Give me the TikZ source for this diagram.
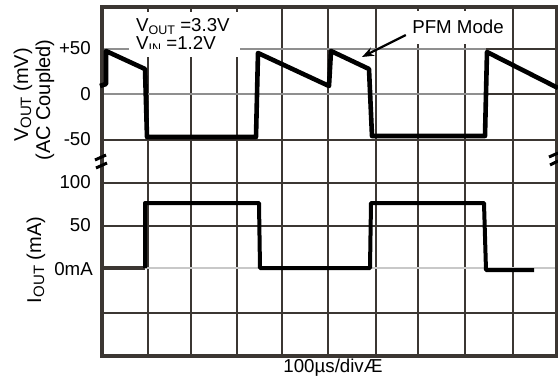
\documentclass[tikz,border=0pt]{standalone}
\usepackage{fontspec}
\setmainfont{Liberation Sans}
\usetikzlibrary{arrows.meta, positioning}
\newcommand{\subtxt}[1]{\raisebox{-3pt}{\fontsize{12.5}{13}\selectfont #1}}
\newcommand{\axsub}[1]{\raisebox{-3pt}{\fontsize{15}{16}\selectfont #1}}
\definecolor{gridc}{HTML}{3B3632}
\definecolor{fadec}{HTML}{8F8F8F}
\definecolor{palec}{HTML}{C8C8C8}

\begin{document}
\begin{tikzpicture}[x=1pt, y=-1pt]
  \tikzset{gridline/.style={draw=gridc, line width=2.8pt},
    fadeline/.style={draw=fadec, line width=2.6pt},
    wave/.style={line width=4.6pt, line join=round},
    lbl/.style={inner sep=0pt, font=\fontsize{18.7}{21}\selectfont},
    ticklbl/.style={lbl, anchor=east},
    axlbl/.style={inner sep=0pt, rotate=90, font=\fontsize{20}{22}\selectfont}}
  \useasboundingbox (0,0) rectangle (558,383);
  % grid
  \foreach \gx in {148,191,237,282,328,376,418,465,513}
    \draw[gridline] (\gx,7) -- (\gx,356);
  \foreach \gy in {140,183,226,313}
    \draw[gridline] (102,\gy) -- (557,\gy);
  \draw[fadeline] (102,49) -- (486,49);
  \draw[gridline] (486,49) -- (557,49);
  \draw[fadeline] (102,94) -- (486,94);
  \draw[gridline] (486,94) -- (557,94);
  \draw[draw=palec, line width=2.6pt] (102,268) -- (557,268);
  \draw[gridline, line width=3.2pt] (102,7) rectangle (557,356);
  % labels in the screen
  \fill[white] (129,12) rectangle (240,57);
  \node[lbl, anchor=base west] (vout) at (136,31) {V\subtxt{OUT} =3.3V};
  \begin{scope}
    \clip (129,12) rectangle (240,48.5);
    \node[lbl, anchor=base west] (vin) at (136,49.5) {V\subtxt{IN} =1.2V};
  \end{scope}
  \node[lbl, fill=white, minimum width=104pt, minimum height=33pt] (pfm) at (458,27) {PFM Mode};
  \coordinate (pfmtip) at (362,57);
  \draw[line width=2.2pt, -{Stealth[length=12pt,width=9pt]}] ([yshift=-8pt]pfm.west) -- (pfmtip);
  % traces
  \draw[wave] (100,86) -- (106,84) -- (106,51) -- (145,69) -- (147,137) -- (256,137) -- (258,53)
    -- (329,86) -- (331,51) -- (369,69) -- (372,136) -- (485,136) -- (487,52) -- (558,88);
  \draw[gridc, line width=4.5pt] (102,268) -- (145,268);
  \draw[wave, line width=4pt] (145,268) -- (145,203) -- (259,203) -- (260,268) -- (370,268)
    -- (371,203) -- (484,203) -- (486,270) -- (534,270);
  \draw[line width=3pt] (95,160) -- (106,155) (96,168) -- (107,163);
  \draw[line width=3pt] (549,157) -- (558,153) (550,165) -- (558,161);
  % axes
  \node[ticklbl] (lp50) at (91,48) {+50};
  \node[ticklbl] (lz) at (91,94) {0};
  \node[ticklbl] (lm50) at (91,139) {-50};
  \node[ticklbl] (l100) at (91,182) {100};
  \node[ticklbl] (l50) at (91,225) {50};
  \node[ticklbl] (l0ma) at (93,269) {0mA};
  \node[axlbl] (vaxis) at (23,95) {V\axsub{OUT} (mV)};
  \node[axlbl] (acaxis) at (45,100) {(AC Coupled)};
  \node[axlbl] (iaxis) at (36,260) {I\axsub{OUT} (mA)};
  \node[lbl] (tdiv) at (333,368) {100µs/divÆ};
\end{tikzpicture}
\end{document}
